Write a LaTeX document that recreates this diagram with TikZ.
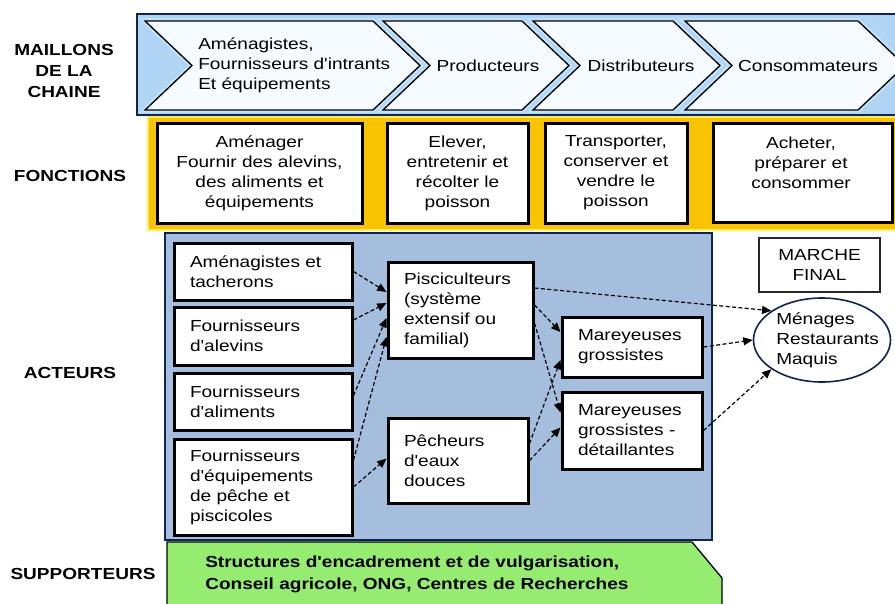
\documentclass[tikz,border=0pt]{standalone}
\usepackage{fontspec}
\setmainfont{Liberation Sans}[FakeStretch=1.19,Ligatures=TeXOff]
\usetikzlibrary{arrows.meta,shapes.geometric}

\definecolor{navyline}{RGB}{16,36,84}
\definecolor{bandblue}{RGB}{176,212,244}
\definecolor{halo}{RGB}{196,226,250}
\definecolor{chevfill}{RGB}{246,251,255}
\definecolor{gold}{RGB}{248,196,0}
\definecolor{goldedge}{RGB}{255,236,90}
\definecolor{actorblue}{RGB}{166,190,222}
\definecolor{supgreen}{RGB}{150,236,112}

\tikzset{
  txt/.style={font=\fontsize{12}{15}\selectfont, inner sep=0pt},
  rowlabel/.style={txt, font=\fontsize{12}{15.75}\selectfont\bfseries, align=center},
  chevron/.style={fill=chevfill, draw=black, line width=1pt, preaction={draw=halo, line width=4pt}},
  funcbox/.style={txt, draw=black, fill=white, line width=2.25pt, align=center},
  actbox/.style={txt, draw=black, fill=white, line width=2.25pt, align=left, inner xsep=12pt},
  flow/.style={-{Triangle[length=7pt,width=6pt]}, line width=0.9pt, dash pattern=on 3pt off 1.8pt},
}

\begin{document}
\begin{tikzpicture}[x=0.75pt,y=0.75pt,yscale=-1,xscale=1]
\clip (0,0) rectangle (895,603);
\fill[white] (0,0) rectangle (895,603);

%Shape: Rectangle [maillons band]
\draw[navyline, line width=2pt, fill=bandblue] (137,14) rectangle (910,115);
%Shape: Chevrons
\draw[chevron] (145,21) -- (373,21) -- (420,65.5) -- (373,110) -- (145,110) -- (192,65.5) -- cycle;
\draw[chevron] (383,21) -- (522,21) -- (569,65.5) -- (522,110) -- (383,110) -- (430,65.5) -- cycle;
\draw[chevron] (533,21) -- (673,21) -- (720,65.5) -- (673,110) -- (533,110) -- (580,65.5) -- cycle;
\draw[chevron] (685,21) -- (858,21) -- (905,65.5) -- (858,110) -- (685,110) -- (732,65.5) -- cycle;

%Shape: Rectangle [fonctions band]
\draw[goldedge, line width=1.5pt, fill=gold] (148,117) rectangle (910,230);
%Shape: Rectangle [acteurs area]
\draw[navyline, line width=1pt, fill=actorblue] (165,233) rectangle (712,540);
%Shape: Polygon [supporteurs band]
\draw[black, line width=1pt, fill=supgreen] (167,612) -- (167,542) -- (692,542) -- (722,578) -- (722,612) -- cycle;

% Text Node
\node[rowlabel] (maillons) at (64,71) {MAILLONS\\DE LA\\CHAINE};
\node[rowlabel] (fonctions) at (70,176) {FONCTIONS};
\node[rowlabel] (acteurs) at (70,373) {ACTEURS};
\node[rowlabel] (supporteurs) at (83,574) {SUPPORTEURS};

% Text Node [chevrons]
\node[txt, anchor=west, align=left] (amenag) at (198,65) {Aménagistes,\\Fournisseurs d'intrants\\Et équipements};
\node[txt] (producteurs) at (488,66) {Producteurs};
\node[txt] (distributeurs) at (641,66) {Distributeurs};
\node[txt] (consommateurs) at (808,66) {Consommateurs};

% Fonctions
\node[funcbox, minimum width=153.75pt, minimum height=75pt] (fAmenager) at (259.5,173) {Aménager\\Fournir des alevins,\\des aliments et\\équipements};
\node[funcbox, minimum width=105.75pt, minimum height=75pt] (fElever) at (457.5,173) {Elever,\\entretenir et\\récolter le\\poisson};
\node[funcbox, minimum width=106.5pt, minimum height=75pt] (fTransporter) at (616,173) {Transporter,\\conserver et\\vendre le\\poisson};
\node[funcbox, minimum width=134.25pt, minimum height=74.25pt] (fAcheter) at (802.5,172.5) {};
\node[txt, align=center] (fAcheterTxt) at (801,163) {Acheter,\\préparer et\\consommer};

% Acteurs
\node[actbox, text width=109.5pt, minimum height=42.75pt] (amenagistes) at (263,271.5) {Aménagistes et\\tacherons};
\node[actbox, text width=109.5pt, minimum height=43.5pt] (alevins) at (263,336) {Fournisseurs\\d'alevins};
\node[actbox, text width=109.5pt, minimum height=42.75pt] (aliments) at (263,401.5) {Fournisseurs\\d'aliments};
\node[actbox, text width=109.5pt, minimum height=72pt] (equipements) at (263,487) {Fournisseurs\\d'équipements\\de pêche et\\piscicoles};
\node[actbox, text width=84.75pt, minimum height=72pt] (pisci) at (460.5,310) {Pisciculteurs\\(système\\extensif ou\\familial)};
\node[actbox, text width=81pt, minimum height=63.75pt] (pecheurs) at (458,460.5) {Pêcheurs\\d'eaux\\douces};
\node[actbox, text width=81pt, minimum height=45pt] (grossistes) at (632,347) {Mareyeuses\\grossistes};
\node[actbox, text width=81pt, minimum height=57.75pt] (detaillants) at (632,430.5) {Mareyeuses\\grossistes -\\détaillantes};

% Marche final
\node[txt, draw=black!85, fill=white, line width=1pt, align=center, minimum width=90.75pt, minimum height=40.5pt] (marche) at (819.5,265) {MARCHE\\FINAL};
\node[ellipse, draw=navyline, line width=1.2pt, fill=white, minimum width=102.75pt, minimum height=63pt, inner sep=0pt] (menages) at (822,340) {};
\node[txt, anchor=west, align=left] (menagesTxt) at (776,340) {Ménages\\Restaurants\\Maquis};

% Text Node [supporteurs]
\node[txt, font=\fontsize{12}{16.5}\selectfont\bfseries, anchor=west, align=left] (structures) at (205,574) {Structures d'encadrement et de vulgarisation,\\Conseil agricole, ONG, Centres de Recherches};

%Straight Lines [flows]
\draw[flow] (amenagistes.east) -- ([shift={(0,-18)}]pisci.west);
\draw[flow] ([shift={(0,-16)}]alevins.east) -- ([shift={(0,-7)}]pisci.west);
\draw[flow] ([shift={(0,-6)}]aliments.east) -- ([shift={(0,8)}]pisci.west);
\draw[flow] ([shift={(0,-27)}]equipements.east) -- ([shift={(0,27)}]pisci.west);
\draw[flow] (equipements.east) -- ([shift={(0,-2)}]pecheurs.west);
\draw[flow] ([shift={(0,-22)}]pisci.east) -- (menages.150);
\draw[flow] ([shift={(0,-5)}]pisci.east) -- ([shift={(0,-15)}]grossistes.west);
\draw[flow] ([shift={(0,13)}]pisci.east) -- ([shift={(0,-18)}]detaillants.west);
\draw[flow] ([shift={(0,-17)}]pecheurs.east) -- ([shift={(0,13)}]grossistes.west);
\draw[flow] (pecheurs.east) -- ([shift={(0,-3)}]detaillants.west);
\draw[flow] (grossistes.east) -- (menages.west);
\draw[flow] (detaillants.east) -- (menages.210);

\end{tikzpicture}
\end{document}
